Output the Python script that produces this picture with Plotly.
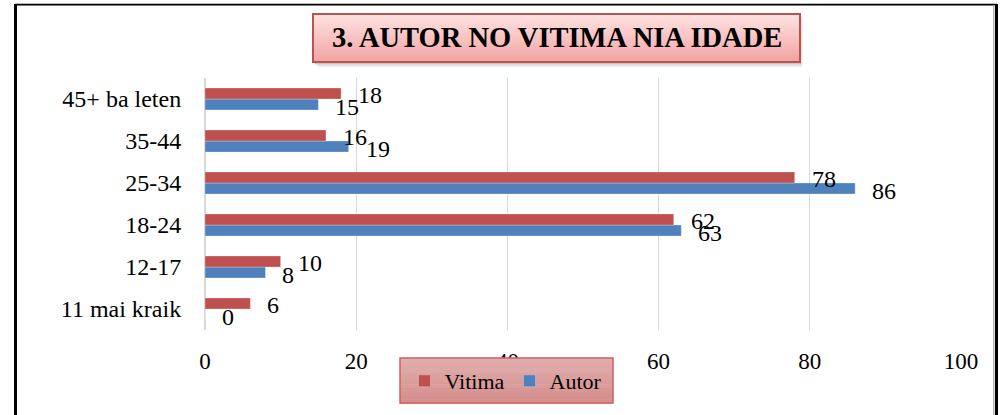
import plotly.graph_objects as go

# categories bottom -> top (plotly draws the first category at the bottom)
grupu_idade = ["11 mai kraik", "12-17", "18-24", "25-34", "35-44", "45+ ba leten"]
vitima = [6, 10, 62, 78, 16, 18]
autor = [0, 8, 63, 86, 19, 15]
x_ticks = [0, 20, 40, 60, 80, 100]

FONT = "Liberation Serif"
W, H = 1002, 415
ML, MR, MT, MB = 205, 41, 78, 85
PW, PH = W - ML - MR, H - MT - MB


def px_x(px):
    return (px - ML) / PW


def px_y(py):
    return (H - MB - py) / PH


def mix(c1, c2, t):
    a = [int(c1[i:i + 2], 16) for i in (1, 3, 5)]
    b = [int(c2[i:i + 2], 16) for i in (1, 3, 5)]
    return "#" + "".join(f"{round(a[k] + (b[k] - a[k]) * t):02x}" for k in range(3))


def gradient_box(x0, y0, x1, y1, top, bottom, border, bw, n=24):
    shapes = []
    for i in range(n):
        ya = y0 + (y1 - y0) * i / n
        yb = y0 + (y1 - y0) * (i + 1) / n
        shapes.append(dict(type="rect", xref="paper", yref="paper", layer="above",
                           x0=px_x(x0), x1=px_x(x1), y0=px_y(ya), y1=px_y(yb + 0.5),
                           fillcolor=mix(top, bottom, i / (n - 1)), line_width=0))
    shapes.append(dict(type="rect", xref="paper", yref="paper", layer="above",
                       x0=px_x(x0), x1=px_x(x1), y0=px_y(y0), y1=px_y(y1),
                       line=dict(color=border, width=bw)))
    return shapes


fig = go.Figure()
fig.add_trace(go.Bar(
    y=grupu_idade, x=autor, name="Autor", orientation="h",
    marker=dict(color="#4F81BD", line=dict(color="rgba(255,255,255,0.35)", width=0.8)),
    legendrank=2,
))
fig.add_trace(go.Bar(
    y=grupu_idade, x=vitima, name="Vitima", orientation="h",
    marker=dict(color="#C0504D", line=dict(color="rgba(255,255,255,0.35)", width=0.8)),
    legendrank=1,
))

# data labels, Excel-style just past the bar ends
annotations = []
for cat, v, a in zip(grupu_idade, vitima, autor):
    annotations.append(dict(x=v, y=cat, xref="x", yref="y", text=str(v), showarrow=False,
                            xanchor="left", xshift=15, yshift=4.5,
                            font=dict(family=FONT, size=24, color="black")))
    annotations.append(dict(x=a, y=cat, xref="x", yref="y", text=str(a), showarrow=False,
                            xanchor="left", xshift=15, yshift=-7.5,
                            font=dict(family=FONT, size=24, color="black")))

annotations.append(dict(x=px_x(557), y=px_y(38), xref="paper", yref="paper",
                        text="<b>3. AUTOR NO VITIMA NIA IDADE</b>", showarrow=False,
                        xanchor="center", yanchor="middle",
                        font=dict(family=FONT, size=28.5, color="black")))

shapes = []
# outer frame (left, top, right)
shapes.append(dict(type="line", xref="paper", yref="paper", layer="above",
                   x0=px_x(15.5), x1=px_x(15.5), y0=px_y(4), y1=px_y(420),
                   line=dict(color="black", width=3)))
shapes.append(dict(type="line", xref="paper", yref="paper", layer="above",
                   x0=px_x(15), x1=px_x(997), y0=px_y(4.7), y1=px_y(4.7),
                   line=dict(color="black", width=1.8)))
shapes.append(dict(type="line", xref="paper", yref="paper", layer="above",
                   x0=px_x(993.8), x1=px_x(993.8), y0=px_y(5), y1=px_y(420),
                   line=dict(color="#A6A6A6", width=1.2)))
shapes.append(dict(type="line", xref="paper", yref="paper", layer="above",
                   x0=px_x(996.5), x1=px_x(996.5), y0=px_y(4), y1=px_y(420),
                   line=dict(color="black", width=3)))

# title box shadow + gradient box
for off, col in [(5, "#EDEDED"), (3.5, "#DCDCDC"), (2, "#C8C8C8")]:
    shapes.append(dict(type="rect", xref="paper", yref="paper", layer="above",
                       x0=px_x(313 + off), x1=px_x(800 + off / 2), y0=px_y(14 + off), y1=px_y(62 + off),
                       fillcolor=col, line_width=0))
shapes += gradient_box(313, 14, 800, 62, "#FDE2E1", "#F3A4A2", "#C0504D", 2)

# legend box
shapes += gradient_box(400, 358, 613, 403, "#DFAEAD", "#D58D8C", "#D45F5E", 1.5)

fig.update_layout(
    width=W, height=H,
    margin=dict(l=ML, r=MR, t=MT, b=MB, pad=0),
    paper_bgcolor="white", plot_bgcolor="white",
    barmode="group", bargap=0.476, bargroupgap=0,
    font=dict(family=FONT, size=24, color="black"),
    showlegend=True,
    legend=dict(orientation="h", x=px_x(506), y=px_y(381), xanchor="center", yanchor="middle",
                bgcolor="rgba(0,0,0,0)", borderwidth=0,
                font=dict(family=FONT, size=22, color="black"),
                itemwidth=30, tracegroupgap=0),
    shapes=shapes,
    annotations=annotations,
)
fig.update_xaxes(
    range=[0, 100], tickvals=x_ticks, showgrid=True, gridcolor="#D9D9D9", gridwidth=1,
    zeroline=True, zerolinecolor="#D9D9D9", zerolinewidth=1.5, showline=False,
    ticks="outside", ticklen=10, tickcolor="rgba(0,0,0,0)",
    tickfont=dict(family=FONT, size=23, color="black"), fixedrange=True,
)
fig.update_yaxes(
    categoryorder="array", categoryarray=grupu_idade, range=[-0.5, 5.5],
    showgrid=False, zeroline=False, showline=False,
    ticks="outside", ticklen=18, tickcolor="rgba(0,0,0,0)",
    tickfont=dict(family=FONT, size=24, color="black"), fixedrange=True,
)

fig.write_html("out.html", config={"displayModeBar": False},
               post_script="document.body.style.margin='0';")
